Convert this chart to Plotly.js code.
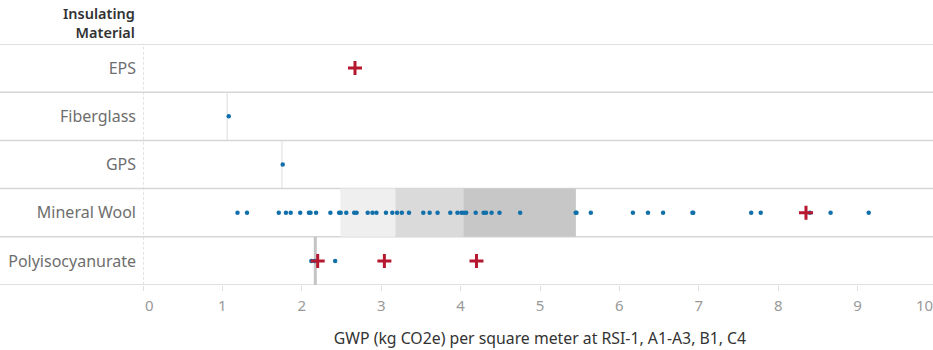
<!DOCTYPE html>
<html><head><meta charset="utf-8">
<script src="https://cdn.plot.ly/plotly-3.0.1.min.js"></script>
<style>html,body{margin:0;padding:0;overflow:hidden;background:#fff}</style>
</head><body><div id="chart"></div>
<script>
// ---- Data ----
const materials = ['EPS', 'Fiberglass', 'GPS', 'Mineral Wool', 'Polyisocyanurate'];
const xTickValues = [0, 1, 2, 3, 4, 5, 6, 7, 8, 9, 10];
const xTickLabels = ['0', '1', '2', '3', '4', '5', '6', '7', '8', '9', '10'];

// Individual products (blue dots)
const epsValues = [];
const fiberglassValues = [1.08];
const gpsValues = [1.76];
const mineralWoolValues = [1.19, 1.31, 1.71, 1.80, 1.86, 1.98, 2.09, 2.11, 2.18, 2.36,
  2.47, 2.49, 2.56, 2.66, 2.69, 2.83, 2.89, 2.94, 3.06, 3.14, 3.20, 3.26, 3.35, 3.53,
  3.61, 3.71, 3.87, 3.96, 4.01, 4.04, 4.07, 4.19, 4.29, 4.32, 4.39, 4.49, 4.75, 5.45,
  5.46, 5.64, 6.17, 6.36, 6.55, 6.92, 6.93, 7.66, 7.78, 8.40, 8.66, 9.14];
const polyisoValues = [2.12, 2.16, 2.42];

// Industry-average values (red crosses)
const avgMaterials = ['EPS', 'Mineral Wool', 'Polyisocyanurate', 'Polyisocyanurate', 'Polyisocyanurate'];
const avgValues = [2.67, 8.35, 2.20, 3.04, 4.20];

// Reference lines (per-row medians)
const refMaterials = ['Fiberglass', 'GPS', 'Polyisocyanurate'];
const refValues = [1.06, 1.75, 2.17];

// Mineral Wool distribution bands
const bandEdges = [2.486, 3.178, 4.034, 5.452];

// ---- Build ----
const dotX = [], dotY = [];
[[epsValues,'EPS'],[fiberglassValues,'Fiberglass'],[gpsValues,'GPS'],
 [mineralWoolValues,'Mineral Wool'],[polyisoValues,'Polyisocyanurate']].forEach(([vals, m]) => {
  vals.forEach(v => { dotX.push(v); dotY.push(m); });
});

const FONT = 'Noto Sans, Open Sans, sans-serif';
const W = 940, ML = 143, MR = 3;
const PW = W - ML - MR;

const shapes = [];
const bandColors = ['#efefef', '#dadada', '#c7c7c7'];
const mwIdx = materials.indexOf('Mineral Wool');
for (let i = 0; i < bandEdges.length - 1; i++) {
  shapes.push({type:'rect', xref:'x', yref:'y', x0:bandEdges[i], x1:bandEdges[i+1],
    y0:mwIdx-0.5, y1:mwIdx+0.5, fillcolor:bandColors[i], line:{width:0}, layer:'below'});
}
refValues.forEach((v, i) => {
  const idx = materials.indexOf(refMaterials[i]);
  const thick = refMaterials[i] === 'Polyisocyanurate';
  shapes.push({type:'line', xref:'x', yref:'y', x0:v, x1:v, y0:idx-0.5, y1:idx+0.5,
    line:{color: thick ? '#c4c4c4' : '#dcdcdc', width: thick ? 3 : 1}, layer:'below'});
});
// zero line (dashed)
shapes.push({type:'line', xref:'x', yref:'paper', x0:0, x1:0, y0:-0.02, y1:1,
  line:{color:'#c8c8c8', width:1, dash:'3px,2px'}, layer:'below'});
// row separators
for (let i = 0; i <= materials.length; i++) {
  shapes.push({type:'line', xref:'paper', yref:'y', x0:-ML/PW, x1:1.01, y0:i-0.5, y1:i-0.5,
    line:{color:'#d6d6d6', width:1.5}, layer:'below'});
}

const traces = [
  {type:'scatter', mode:'markers', x:dotX, y:dotY, hoverinfo:'x+y',
   marker:{color:'#1170aa', size:4.5, line:{width:0}}},
  {type:'scatter', mode:'markers', x:avgValues, y:avgMaterials, hoverinfo:'x+y',
   marker:{symbol:'cross-thin', color:'#b5182f', size:10, line:{color:'#b5182f', width:3}}}
];

// end labels kept inside the chart (as Tableau does): drawn as annotations
const lastIdx = xTickValues.length - 1;
const tickText = xTickLabels.map((t, i) => (i === 0 || i === lastIdx) ? '' : t);
const TICKFONT = {size:15, color:'#999', family:FONT};
const annotations = [
  {xref:'paper', yref:'paper', x:(137-ML)/PW, y:(285-22)/241,
    xanchor:'right', yanchor:'middle', align:'right', showarrow:false,
    text:'Insulating<br>Material', font:{size:14.5, color:'#333', family:FONT, weight:600}},
  {xref:'x', yref:'paper', x:xTickValues[0], y:(285-305)/241, xshift:6,
    xanchor:'center', yanchor:'middle', showarrow:false, text:xTickLabels[0], font:TICKFONT},
  {xref:'x', yref:'paper', x:xTickValues[lastIdx], y:(285-305)/241, xshift:-13,
    xanchor:'center', yanchor:'middle', showarrow:false, text:xTickLabels[lastIdx], font:TICKFONT}
];

const layout = {
  width: W, height: 350,
  margin: {l: ML, r: MR, t: 44, b: 65},
  paper_bgcolor: '#fff', plot_bgcolor: '#fff',
  showlegend: false,
  font: {family: FONT, color: '#666'},
  xaxis: {range:[0, 10], tickvals: xTickValues, ticktext: tickText,
    showgrid:false, zeroline:false, showline:false,
    ticks:'outside', ticklen:5, tickcolor:'#e0e0e0', ticklabelstandoff: 2,
    ticklabeloverflow:'allow',
    tickfont:TICKFONT,
    title:{text:'GWP (kg CO2e) per square meter at RSI-1, A1-A3, B1, C4',
      font:{size:15.8, color:'#333', family:FONT}, standoff: 18}},
  yaxis: {type:'category', categoryorder:'array', categoryarray: materials,
    range:[materials.length-0.5, -0.5], showgrid:false, zeroline:false, showline:false,
    ticks:'', tickfont:{size:16, color:'#6e6e6e', family:FONT}, ticklabelstandoff: 6},
  shapes: shapes,
  annotations: annotations
};

Plotly.newPlot('chart', traces, layout, {displayModeBar:false, staticPlot:true});
</script></body></html>
